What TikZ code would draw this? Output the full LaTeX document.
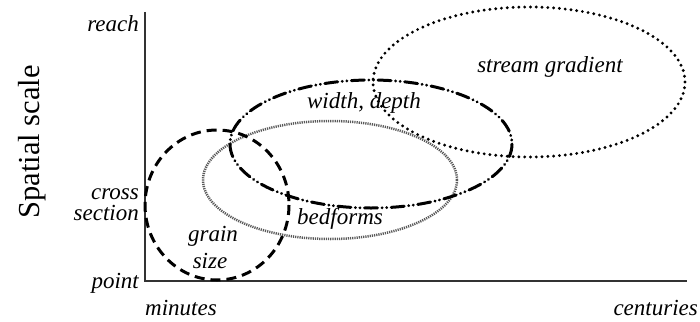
\documentclass[tikz,border=0pt]{standalone}
\usepackage{fontspec}
\setmainfont{Liberation Serif}
\begin{document}
\begin{tikzpicture}[x=1pt,y=-1pt,
  lab/.style={font=\fontsize{23}{21}\selectfont\itshape, inner sep=0pt},
  axis/.style={line width=1.5pt, black!80},
  grainst/.style={line width=3pt, dash pattern=on 10pt off 6pt},
  widthst/.style={line width=3pt, line cap=round, dash pattern=on 13pt off 4.5pt on 0.1pt off 4.5pt on 0.1pt off 4.5pt},
  streamst/.style={line width=3.2pt, line cap=round, dash pattern=on 0pt off 5.8pt},
  bedst/.style={line width=2.5pt, black!65, dash pattern=on 1.2pt off 1pt}]
\useasboundingbox (0,0) rectangle (700,321);
\coordinate (o) at (145,281);
\coordinate (ytop) at (145,12);
\coordinate (xend) at (687,281);
\draw[axis] (ytop) -- (o) -- (xend);
\node[lab, anchor=east] (reach) at (139,24) {reach};
\node[lab, anchor=east, align=right] (cross) at (139,205) {cross\\section};
\node[lab, anchor=east] (point) at (139,283) {point};
\node[lab] (minutes) at (181,308) {minutes};
\node[lab, anchor=east] (centuries) at (698,308) {centuries};
\node[font=\fontsize{30.5}{32}\selectfont, rotate=90, inner sep=0pt] (yl) at (32,142) {Spatial scale};
\draw[bedst] (330,180) ellipse [x radius=127, y radius=59];
\draw[streamst] (529,82) ellipse [x radius=156, y radius=75];
\draw[widthst] (371,144) ellipse [x radius=141, y radius=64];
\draw[grainst] (217,205) ellipse [x radius=72, y radius=75];
\node[lab] (wd) at (364,103) {width, depth};
\node[lab] (sg) at (550,67) {stream gradient};
\node[lab] (bf) at (340,219) {bedforms};
\node[lab] (gr) at (213,236) {grain};
\node[lab] (sz) at (210,261) {size};
\end{tikzpicture}
\end{document}
